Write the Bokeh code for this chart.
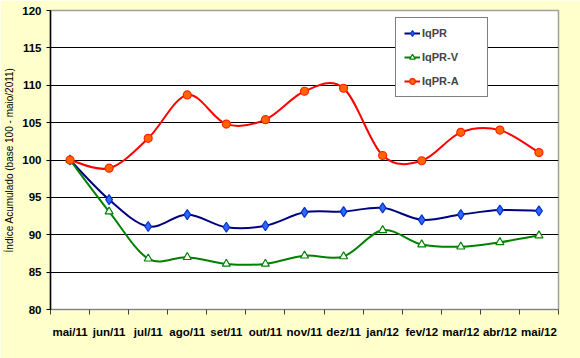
import numpy as np
from bokeh.plotting import figure
from bokeh.models import (FixedTicker, Range1d, Legend, LegendItem, ColumnDataSource)
from bokeh.embed import file_html
from bokeh.resources import INLINE

months = ["mai/11", "jun/11", "jul/11", "ago/11", "set/11", "out/11", "nov/11",
          "dez/11", "jan/12", "fev/12", "mar/12", "abr/12", "mai/12"]
iqpr = [100.0, 94.7, 91.1, 92.7, 91.0, 91.2, 93.0, 93.1, 93.6, 92.0, 92.7, 93.3, 93.2]
iqpr_v = [100.0, 93.1, 86.8, 87.0, 86.1, 86.1, 87.2, 87.1, 90.6, 88.7, 88.4, 89.0, 89.9]
iqpr_a = [100.0, 98.9, 102.9, 108.7, 104.8, 105.4, 109.2, 109.6, 100.6, 99.9, 103.7, 104.0, 101.0]
y_ticks = [80, 85, 90, 95, 100, 105, 110, 115, 120]

FONT = "Liberation Sans"

p = figure(width=580, height=358, output_backend="svg", toolbar_location=None,
           x_range=Range1d(-0.5, len(months) - 0.5), y_range=Range1d(80, 120),
           min_border_left=50, min_border_right=22, min_border_top=10,
           min_border_bottom=49)
p.background_fill_color = "white"
p.border_fill_color = "#FFFFCC"
p.outline_line_color = "#A0A0A0"
p.outline_line_width = 1.5

x = np.arange(len(months))

# x axis: labels at category centres, tick marks at category boundaries
p.xaxis.ticker = FixedTicker(ticks=list(x),
                             minor_ticks=list(np.arange(len(months) + 1) - 0.5))
p.xaxis.major_label_overrides = {int(i): m for i, m in enumerate(months)}
p.xaxis.major_tick_out = 0
p.xaxis.major_tick_in = 0
p.xaxis.minor_tick_out = 5
p.xaxis.minor_tick_in = 0
p.xaxis.major_label_standoff = 11
p.xaxis.axis_line_color = "#808080"
p.xaxis.minor_tick_line_color = "#404040"

p.yaxis.ticker = FixedTicker(ticks=y_ticks)
p.yaxis.minor_tick_line_color = None
p.yaxis.major_tick_out = 4
p.yaxis.major_tick_in = 0
p.yaxis.major_label_standoff = 5
p.yaxis.axis_line_color = "black"
p.yaxis.axis_line_width = 1.5
p.yaxis.axis_label = "Índice Acumulado (base 100 - maio/2011)"
p.yaxis.axis_label_text_font = FONT
p.yaxis.axis_label_text_font_size = "10px"
p.yaxis.axis_label_text_font_style = "normal"
p.yaxis.axis_label_text_color = "black"
p.yaxis.axis_label_standoff = 4

for ax in (p.xaxis, p.yaxis):
    ax.major_label_text_font = FONT
    ax.major_label_text_font_size = "11.5px"
    ax.major_label_text_font_style = "bold"
    ax.major_label_text_color = "black"

p.xgrid.grid_line_color = None
p.ygrid.grid_line_color = "black"
p.ygrid.grid_line_width = 1.2


def smooth(ys):
    ys = np.asarray(ys, dtype=float)
    xs = np.arange(len(ys), dtype=float)
    px = np.concatenate([[xs[0]], xs, [xs[-1]]])
    py = np.concatenate([[ys[0]], ys, [ys[-1]]])
    n = len(ys) - 1
    x0 = xs[:-1]; y0 = ys[:-1]; x1 = xs[1:]; y1 = ys[1:]
    cx0 = x0 + (px[2:n + 2] - px[0:n]) / 6.0
    cy0 = y0 + (py[2:n + 2] - py[0:n]) / 6.0
    cx1 = x1 - (px[3:n + 3] - px[1:n + 1]) / 6.0
    cy1 = y1 - (py[3:n + 3] - py[1:n + 1]) / 6.0
    return ColumnDataSource(dict(x0=x0, y0=y0, x1=x1, y1=y1,
                                 cx0=cx0, cy0=cy0, cx1=cx1, cy1=cy1))


series = [
    ("IqPR", iqpr, "#000080", "diamond", "#3366FF", "#0033CC", 10),
    ("IqPR-V", iqpr_v, "#008000", "triangle", "white", "#008000", 8),
    ("IqPR-A", iqpr_a, "#FF0000", "circle", "#FF6600", "#FF2200", 8),
]

items = []
for name, ys, lc, marker, fc, oc, sz in series:
    src = smooth(ys)
    b = p.bezier(x0="x0", y0="y0", x1="x1", y1="y1", cx0="cx0", cy0="cy0",
                 cx1="cx1", cy1="cy1", source=src, line_color=lc, line_width=2)
    s = p.scatter(x=x, y=ys, marker=marker, size=sz, fill_color=fc,
                  line_color=oc, line_width=1.2)
    items.append(LegendItem(label=name, renderers=[b, s]))

legend = Legend(items=items, location=(345, 212), orientation="vertical",
                label_text_font=FONT, label_text_font_size="11px",
                label_text_font_style="bold", label_height=14, glyph_height=14,
                glyph_width=16, label_width=57, spacing=10, padding=8,
                border_line_color="black", border_line_width=1.2,
                background_fill_color="white", background_fill_alpha=1.0,
                label_standoff=2)
p.add_layout(legend)

open("out.html", "w").write(file_html(p, INLINE))
